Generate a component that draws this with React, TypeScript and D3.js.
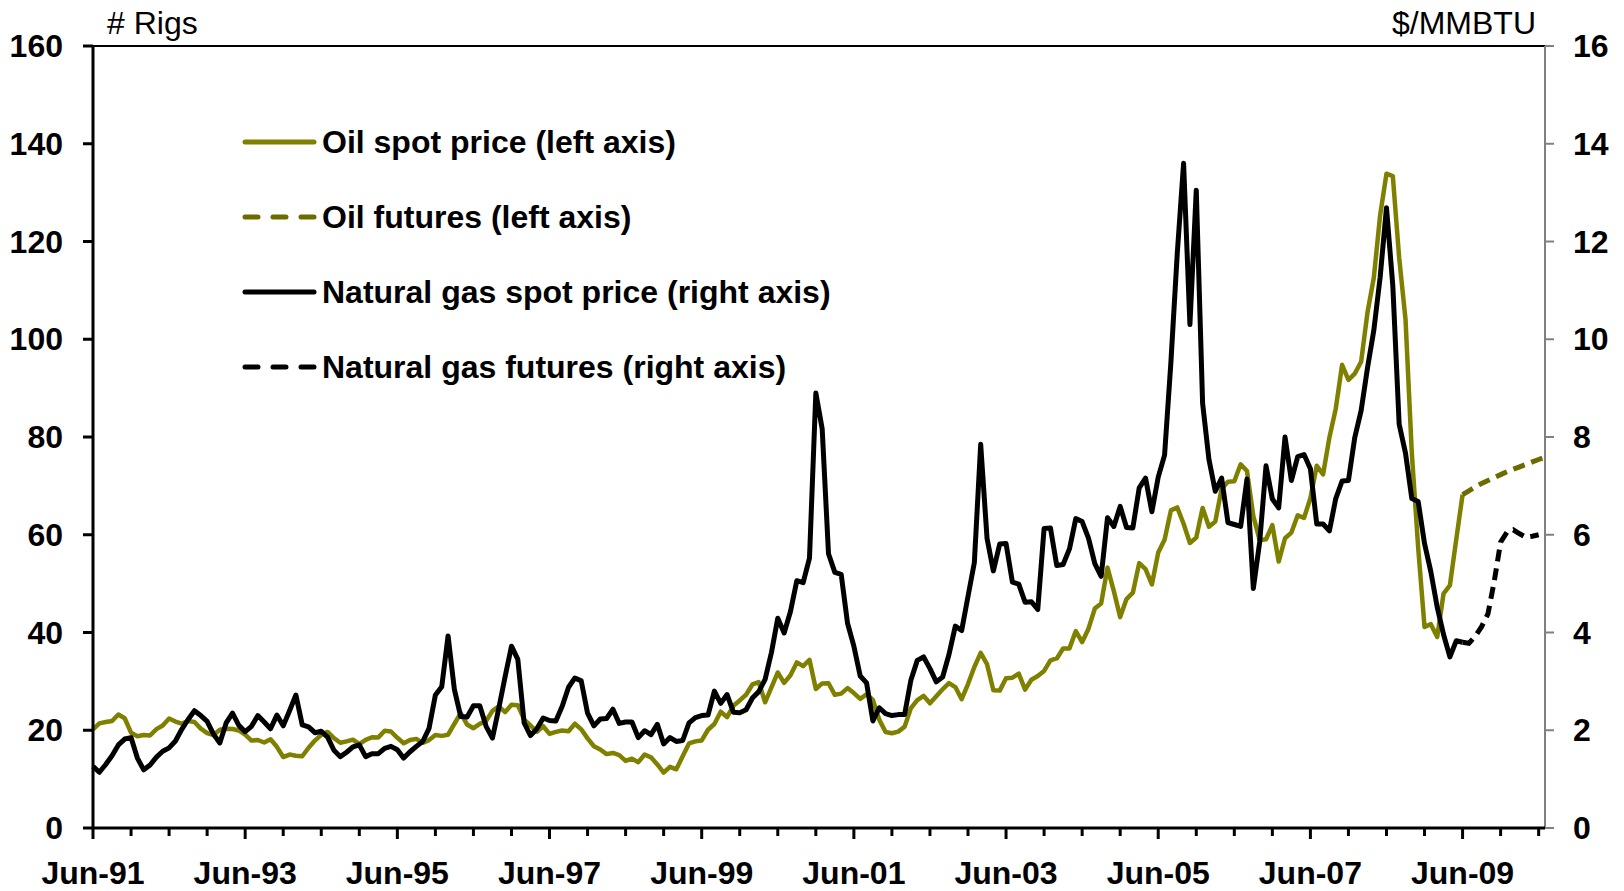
import { useEffect, useRef } from 'react';
import * as d3 from 'd3';

// monthly values, first entry = Jun-91 (month index 0)
const oilSpot = [
  20.19, 21.4, 21.69, 21.89, 23.23, 22.46, 19.5,
  18.79, 19.01, 18.92, 20.23, 20.98, 22.39, 21.78, 21.34, 21.88, 21.69, 20.34, 19.41,
  19.03, 20.09, 20.32, 20.25, 19.95, 19.09, 17.89, 18.01, 17.5, 18.15, 16.61, 14.52,
  15.03, 14.78, 14.68, 16.42, 17.89, 19.06, 19.66, 18.38, 17.45, 17.72, 18.07, 17.16,
  18.04, 18.57, 18.54, 19.9, 19.74, 18.45, 17.33, 18.02, 18.23, 17.43, 17.99, 19.03,
  18.85, 19.09, 21.33, 23.5, 21.17, 20.42, 21.3, 21.9, 23.97, 24.88, 23.71, 25.23,
  25.13, 22.18, 20.97, 19.7, 20.82, 19.26, 19.66, 19.95, 19.8, 21.33, 20.19, 18.33,
  16.72, 16.06, 15.12, 15.35, 14.91, 13.72, 14.17, 13.47, 15.03, 14.46, 13.0, 11.35,
  12.52, 12.01, 14.68, 17.31, 17.72, 17.92, 20.1, 21.28, 23.8, 22.69, 25.0, 26.1,
  27.26, 29.37, 29.84, 25.72, 28.79, 31.82, 29.7, 31.26, 33.88, 33.11, 34.42, 28.44,
  29.59, 29.61, 27.25, 27.49, 28.63, 27.6, 26.43, 27.37, 26.2, 22.17, 19.64, 19.39,
  19.72, 20.72, 24.53, 26.18, 27.04, 25.52, 26.97, 28.39, 29.66, 28.84, 26.35, 29.46,
  32.95, 35.83, 33.51, 28.17, 28.11, 30.66, 30.76, 31.57, 28.31, 30.34, 31.11, 32.13,
  34.31, 34.69, 36.74, 36.75, 40.28, 38.03, 40.78, 44.9, 45.94, 53.28, 48.47, 43.15,
  46.84, 48.15, 54.19, 52.98, 49.83, 56.35, 58.99, 64.98, 65.59, 62.26, 58.32, 59.41,
  65.49, 61.63, 62.69, 69.44, 70.84, 70.95, 74.41, 73.04, 63.8, 58.89, 59.08, 61.96,
  54.51, 59.28, 60.44, 63.98, 63.46, 67.49, 74.12, 72.36, 79.92, 85.8, 94.77, 91.69,
  92.97, 95.39, 105.45, 112.58, 125.4, 133.88, 133.37, 116.67, 104.11, 76.61, 57.31, 41.12,
  41.71, 39.09, 47.94, 49.65, 59.03, 68.2,
];

const gasSpot = [
  1.26, 1.14, 1.3, 1.48, 1.7, 1.82, 1.85,
  1.43, 1.19, 1.29, 1.45, 1.57, 1.64, 1.78, 2.02, 2.22, 2.4, 2.3, 2.18,
  1.92, 1.74, 2.15, 2.35, 2.1, 1.97, 2.08, 2.3, 2.17, 2.03, 2.31, 2.09,
  2.4, 2.72, 2.11, 2.07, 1.95, 1.98, 1.86, 1.59, 1.46, 1.55, 1.66, 1.7,
  1.46, 1.52, 1.52, 1.63, 1.67, 1.6, 1.43, 1.56, 1.67, 1.77, 2.04, 2.72,
  2.89, 3.93, 2.83, 2.28, 2.27, 2.5, 2.5, 2.08, 1.84, 2.45, 3.1, 3.72,
  3.45, 2.15, 1.89, 2.03, 2.25, 2.2, 2.19, 2.49, 2.88, 3.07, 3.01, 2.35,
  2.09, 2.23, 2.24, 2.43, 2.14, 2.17, 2.17, 1.85, 1.99, 1.91, 2.12, 1.72,
  1.85, 1.77, 1.79, 2.15, 2.26, 2.3, 2.31, 2.8, 2.55, 2.73, 2.37, 2.36,
  2.42, 2.66, 2.79, 3.04, 3.59, 4.29, 3.99, 4.43, 5.06, 5.02, 5.52, 8.9,
  8.17, 5.61, 5.23, 5.19, 4.19, 3.72, 3.11, 2.97, 2.19, 2.46, 2.34, 2.3,
  2.32, 2.32, 3.03, 3.43, 3.5, 3.26, 2.99, 3.09, 3.55, 4.13, 4.04, 4.74,
  5.43, 7.85, 5.93, 5.26, 5.81, 5.82, 5.03, 4.99, 4.62, 4.63, 4.47, 6.13,
  6.14, 5.37, 5.39, 5.71, 6.33, 6.27, 5.93, 5.41, 5.15, 6.35, 6.17, 6.58,
  6.15, 6.14, 6.96, 7.16, 6.47, 7.18, 7.63, 9.53, 11.75, 13.6, 10.3, 13.05,
  8.69, 7.54, 6.89, 7.16, 6.25, 6.21, 6.17, 7.14, 4.9, 5.85, 7.41, 6.73,
  6.55, 8.0, 7.11, 7.6, 7.64, 7.35, 6.22, 6.22, 6.08, 6.74, 7.1, 7.11,
  7.99, 8.54, 9.41, 10.18, 11.27, 12.69, 11.09, 8.26, 7.67, 6.74, 6.68, 5.82,
  5.24, 4.52, 3.96, 3.5, 3.83, 3.8,
];

// futures start at Jun-09 (month index 216), joined to the last spot value
const futuresStart = 216;
const oilFutures = [68.2, 69.0, 69.8, 70.5, 71.1, 71.7, 72.3, 72.9, 73.4, 73.9, 74.4, 74.9, 75.4, 75.9];
const gasFutures = [3.8, 3.78, 3.92, 4.12, 4.38, 5.05, 5.85, 6.05, 6.1, 6.02, 5.95, 5.97, 6.0];

const leftTicks = [0, 20, 40, 60, 80, 100, 120, 140, 160];
const rightTicks = [0, 2, 4, 6, 8, 10, 12, 14, 16];
const xLabels = ['Jun-91', 'Jun-93', 'Jun-95', 'Jun-97', 'Jun-99', 'Jun-01', 'Jun-03', 'Jun-05', 'Jun-07', 'Jun-09'];
const legendLabels = [
  'Oil spot price (left axis)',
  'Oil futures (left axis)',
  'Natural gas spot price (right axis)',
  'Natural gas futures (right axis)',
];

const OLIVE = '#808000';
const OLIVE_DARK = '#6b6b00';
const FONT = "'Liberation Sans', Arial, sans-serif";

function App() {
  const svgRef = useRef<SVGSVGElement>(null);

  useEffect(() => {
    if (!svgRef.current) return;
    const svg = d3.select(svgRef.current);
    svg.selectAll('*').remove();

    const left = 93, right = 1545, top = 46, bottom = 828;
    const lastMonth = 229; // Jul-10

    const x = d3.scaleLinear().domain([0, lastMonth]).range([left, right]);
    const yL = d3.scaleLinear().domain([0, 160]).range([bottom, top]);
    const yR = d3.scaleLinear().domain([0, 16]).range([bottom, top]);

    const lineL = d3.line<[number, number]>().x(d => x(d[0])).y(d => yL(d[1]));
    const lineR = d3.line<[number, number]>().x(d => x(d[0])).y(d => yR(d[1]));

    const oilPts = oilSpot.map((v, i) => [i, v] as [number, number]);
    const gasPts = gasSpot.map((v, i) => [i, v] as [number, number]);
    const oilFutPts = oilFutures.map((v, i) => [futuresStart + i, v] as [number, number]);
    const gasFutPts = gasFutures.map((v, i) => [futuresStart + i, v] as [number, number]);

    // axes frame
    svg.append('line').attr('x1', left).attr('x2', right).attr('y1', top).attr('y2', top)
      .attr('stroke', '#000').attr('stroke-width', 2);
    svg.append('line').attr('x1', right).attr('x2', right).attr('y1', top).attr('y2', bottom)
      .attr('stroke', '#808080').attr('stroke-width', 2);

    // right axis ticks + labels
    rightTicks.forEach(t => {
      svg.append('line').attr('x1', right).attr('x2', right + 9).attr('y1', yR(t)).attr('y2', yR(t))
        .attr('stroke', '#808080').attr('stroke-width', 2);
      svg.append('text').attr('x', 1573).attr('y', yR(t) + 11)
        .attr('font-family', FONT).attr('font-size', 32).attr('font-weight', 'bold')
        .text(t);
    });

    // lines
    svg.append('path').attr('d', lineL(oilPts)).attr('fill', 'none').attr('stroke', OLIVE)
      .attr('stroke-width', 4.5).attr('stroke-linejoin', 'round');
    svg.append('path').attr('d', lineL(oilFutPts)).attr('fill', 'none').attr('stroke', OLIVE_DARK)
      .attr('stroke-width', 5).attr('stroke-dasharray', '12,7');
    svg.append('path').attr('d', lineR(gasPts)).attr('fill', 'none').attr('stroke', '#000')
      .attr('stroke-width', 5).attr('stroke-linejoin', 'round');
    svg.append('path').attr('d', lineR(gasFutPts)).attr('fill', 'none').attr('stroke', '#000')
      .attr('stroke-width', 5).attr('stroke-dasharray', '12,7');

    // left axis
    svg.append('line').attr('x1', left).attr('x2', left).attr('y1', top - 1).attr('y2', bottom + 1)
      .attr('stroke', '#000').attr('stroke-width', 3);
    leftTicks.forEach(t => {
      svg.append('line').attr('x1', left - 10).attr('x2', left).attr('y1', yL(t)).attr('y2', yL(t))
        .attr('stroke', '#000').attr('stroke-width', 3);
      svg.append('text').attr('x', 63).attr('y', yL(t) + 11).attr('text-anchor', 'end')
        .attr('font-family', FONT).attr('font-size', 32).attr('font-weight', 'bold')
        .text(t);
    });

    // bottom axis, ticks every six months
    svg.append('line').attr('x1', left).attr('x2', right).attr('y1', bottom).attr('y2', bottom)
      .attr('stroke', '#000').attr('stroke-width', 3);
    d3.range(0, lastMonth, 6).forEach(m => {
      const major = m % 24 === 0;
      svg.append('line').attr('x1', x(m)).attr('x2', x(m)).attr('y1', bottom).attr('y2', bottom + (major ? 11 : 8))
        .attr('stroke', '#000').attr('stroke-width', 3);
    });
    xLabels.forEach((lab, i) => {
      svg.append('text').attr('x', x(i * 24)).attr('y', 884).attr('text-anchor', 'middle')
        .attr('font-family', FONT).attr('font-size', 32).attr('font-weight', 'bold')
        .text(lab);
    });

    // axis titles
    svg.append('text').attr('x', 107).attr('y', 34).attr('font-family', FONT).attr('font-size', 32)
      .text('# Rigs');
    svg.append('text').attr('x', 1536).attr('y', 34).attr('text-anchor', 'end')
      .attr('font-family', FONT).attr('font-size', 32).text('$/MMBTU');

    // legend
    const legendStyles = [
      { color: OLIVE, dash: null },
      { color: OLIVE_DARK, dash: '13,15' },
      { color: '#000', dash: null },
      { color: '#000', dash: '13,15' },
    ];
    legendLabels.forEach((lab, i) => {
      const ly = 142 + i * 75;
      const st = legendStyles[i];
      svg.append('line').attr('x1', 245).attr('x2', 314).attr('y1', ly).attr('y2', ly)
        .attr('stroke', st.color).attr('stroke-width', 5)
        .attr('stroke-linecap', 'round')
        .attr('stroke-dasharray', st.dash);
      svg.append('text').attr('x', 322).attr('y', ly + 11)
        .attr('font-family', FONT).attr('font-size', 32).attr('font-weight', 'bold')
        .text(lab);
    });
  }, []);

  return (
    <svg ref={svgRef} width={1624} height={891}
      style={{ position: 'absolute', left: 0, top: 0, background: '#fff' }} />
  );
}

export default App;
